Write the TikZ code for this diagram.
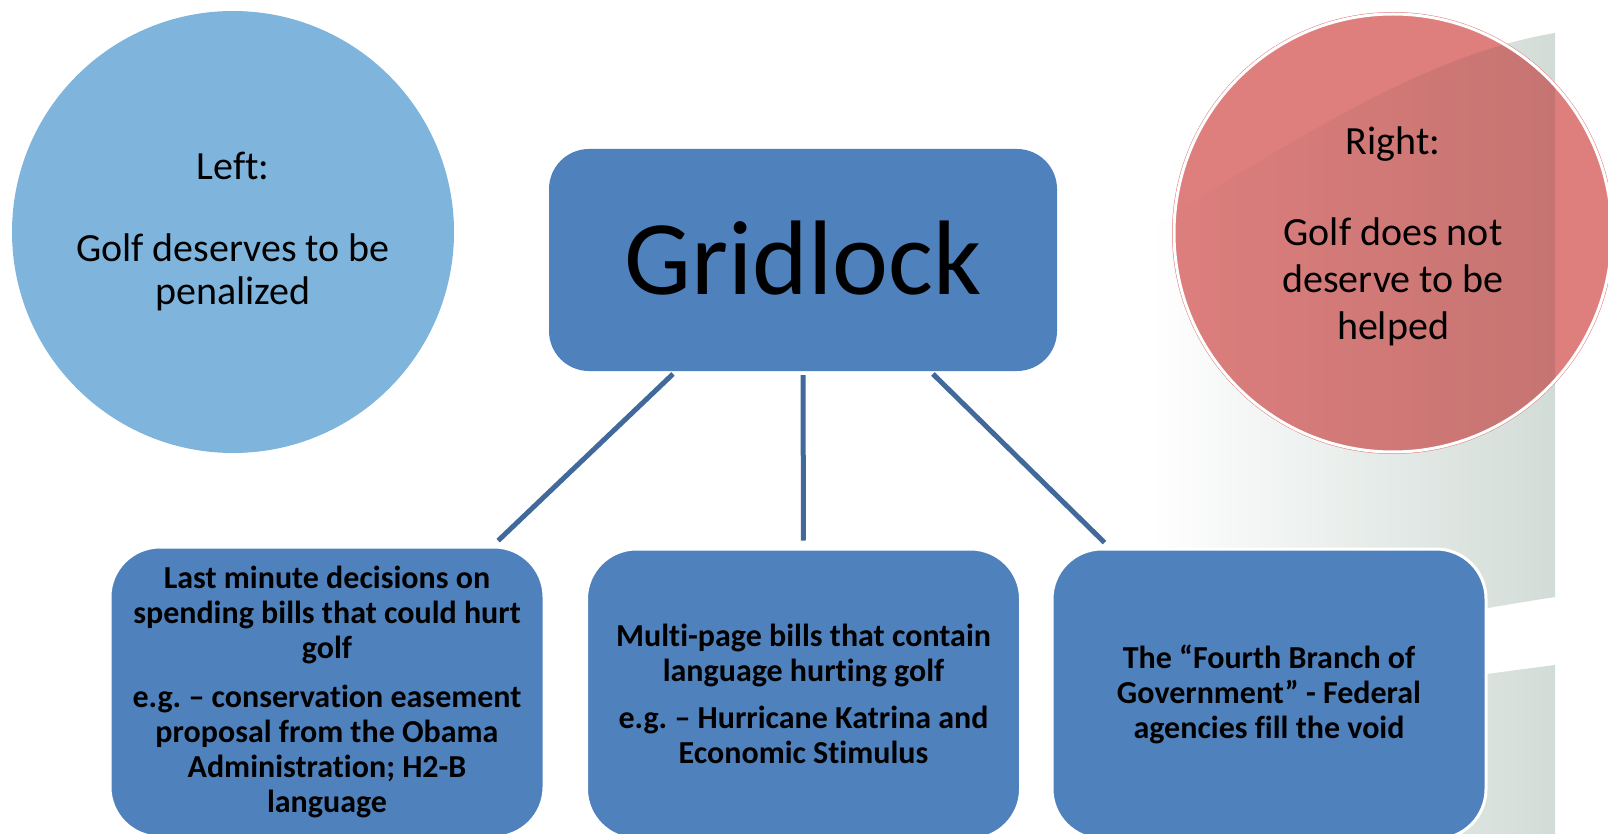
\documentclass[tikz,border=0pt]{standalone}
\usepackage{fontspec}
\setmainfont{Carlito}[Ligatures=NoCommon]
\frenchspacing
\usetikzlibrary
  {
    calc, % points along the box edges
  }

\begin{document}
\begin{tikzpicture}
    [
      x=1pt, y=-1pt,
      % Styles
      ball/.style={circle, inner sep=0pt, minimum size=442pt, align=center,
        font=\fontsize{40}{43}\selectfont},
      topic box/.style={rectangle, rounded corners=40pt, fill=boxblue,
        minimum width=508pt, minimum height=222pt,
        font=\fontsize{106}{120}\selectfont},
      case box/.style={rectangle, rounded corners=50pt, fill=boxblue,
        draw=white, line width=3pt, minimum width=434pt, minimum height=290pt,
        align=center, font=\fontsize{32}{35}\selectfont\bfseries},
      link/.style={draw=linkblue, line width=5pt, shorten <=4pt, shorten >=7pt}
    ]

    % Colors
    \definecolor{leftblue}{HTML}{7FB5DD}
    \definecolor{rightred}{HTML}{DE7F7E}
    \definecolor{boxblue}{HTML}{4F81BD}
    \definecolor{linkblue}{HTML}{41699B}
    \definecolor{bandgray}{HTML}{D2DCD7}

    \useasboundingbox (0,0) rectangle (1608,834);

    % background bands on the right
    \shade [left color=white, right color=bandgray]
      (1150,228) .. controls (1280,150) and (1420,55) .. (1555,33) --
      (1555,597) .. controls (1420,618) and (1260,650) .. (1150,680) -- cycle;
    \shade [left color=white, right color=bandgray]
      (1150,740) .. controls (1280,705) and (1420,682) .. (1555,665) --
      (1555,834) -- (1150,834) -- cycle;

    \node [ball, fill=leftblue] (left) at (233,232)
      {Left:\\[39pt] Golf deserves to be\\ penalized};

    \node [ball, fill=rightred] (right) at (1393,233) {};

    % band seen through the red circle
    \begin{scope}
      \clip (right.center) circle (219pt);
      \begin{scope}[blend mode=multiply]
        \shade [left color=white, right color=bandgray!60!white]
          (1150,228) .. controls (1280,150) and (1420,55) .. (1555,33) --
          (1555,597) .. controls (1420,618) and (1260,650) .. (1150,680) -- cycle;
      \end{scope}
    \end{scope}
    \draw [white, line width=3pt] (right.center) circle (219pt);
    \node [align=center, font=\fontsize{40}{47}\selectfont] at (1393,236)
      {Right:\\[44pt] Golf does not\\ deserve to be\\ helped};

    \node [topic box] (grid) at (803,260) {\raisebox{4pt}{Gridlock}};

    \node [case box] (spend) at (327,692)
      {Last minute decisions on\\ spending bills that could hurt\\ golf\\[14pt]
       e.g. – conservation easement\\ proposal from the Obama\\
       Administration; H2-B\\ language};
    \node [case box] (pages) at (803.5,694)
      {Multi-page bills that contain\\ language hurting golf\\[12pt]
       e.g. – Hurricane Katrina and\\ Economic Stimulus};
    \node [case box] (agency) at (1269,694)
      {The “Fourth Branch of\\ Government” - Federal\\ agencies fill the void};

    \draw [link] ($(grid.south west)!.25!(grid.south east)$) --
      ($(spend.north west)!.88!(spend.north east)$);
    \draw [link] (grid.south) -- (pages.north);
    \draw [link] ($(grid.south west)!.75!(grid.south east)$) --
      ($(agency.north west)!.135!(agency.north east)$);
  \end{tikzpicture}
\end{document}
